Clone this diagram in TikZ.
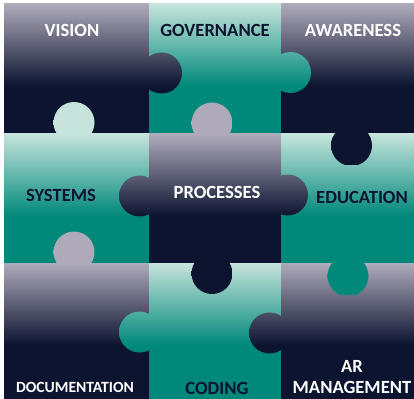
\documentclass[tikz,border=0pt]{standalone}
\usepackage{fontspec}
\setmainfont{Carlito}
\usepackage{tikz}

\definecolor{plav}{RGB}{174,170,186}
\definecolor{pnavy}{RGB}{12,20,48}
\definecolor{pmint}{RGB}{198,228,220}
\definecolor{pteal}{RGB}{0,137,122}
\pgfdeclareverticalshading{darkpiece}{100bp}{color(0bp)=(pnavy); color(44.5bp)=(pnavy); color(65bp)=(plav); color(100bp)=(plav)}
\pgfdeclareverticalshading{tealpiece}{100bp}{color(0bp)=(pteal); color(44.5bp)=(pteal); color(65bp)=(pmint); color(100bp)=(pmint)}

\begin{document}
\begin{tikzpicture}[x=1pt,y=-1pt,
    lightlabel/.style={text=white,font=\fontsize{18.6}{21}\selectfont\bfseries,inner sep=0pt},
    darklabel/.style={text=pnavy,font=\fontsize{18.6}{21}\selectfont\bfseries,inner sep=0pt}]
                \useasboundingbox (0,0) rectangle (414,398);

                \foreach \xa/\xb/\ya/\yb/\s in {4/149/4/134/darkpiece, 149/281/4/134/tealpiece, 281/414/4/134/darkpiece,
                    4/149/134/263/tealpiece, 149/281/134/263/darkpiece, 281/414/134/263/tealpiece,
                    4/149/263/398/darkpiece, 149/281/263/398/tealpiece, 281/414/263/398/darkpiece}{
                    \begin{scope}
                        \clip (\xa,\ya) rectangle (\xb,\yb);
                        \shade[shading=\s] (\xa,\ya-40) rectangle (\xb,\ya+160);
                    \end{scope}
                }

                % ピースの凸部
                \foreach \cx/\cy/\t/\s in {161.5/73/4/darkpiece, 74/122.5/134/tealpiece, 212/123/134/darkpiece,
                    290.5/72.5/4/tealpiece, 351.5/145.5/4/darkpiece, 139.5/196/134/darkpiece,
                    287.5/195/134/darkpiece, 74/252/263/darkpiece, 212/273.5/134/darkpiece,
                    139.5/332/263/tealpiece, 348/276/134/tealpiece, 269.5/333/263/darkpiece}{
                    \begin{scope}
                        \clip (\cx,\cy) circle (20.5);
                        \shade[shading=\s] (\cx-30,\t-40) rectangle (\cx+30,\t+160);
                    \end{scope}
                }

                \node[lightlabel] (vision) at (72,30) {VISION};
                \node[darklabel] (governance) at (215,30) {GOVERNANCE};
                \node[lightlabel] (awareness) at (353,30) {AWARENESS};
                \node[darklabel] (systems) at (61,195) {SYSTEMS};
                \node[lightlabel] (processes) at (217,192) {PROCESSES};
                \node[darklabel] (education) at (362,197) {EDUCATION};
                \node[lightlabel,font=\fontsize{15.6}{18}\selectfont\bfseries] (documentation) at (75,387) {DOCUMENTATION};
                \node[darklabel] (coding) at (217,388) {CODING};
                \node[lightlabel,align=center] (armanagement) at (352,377.5) {AR\\MANAGEMENT};

            \end{tikzpicture}
\end{document}
